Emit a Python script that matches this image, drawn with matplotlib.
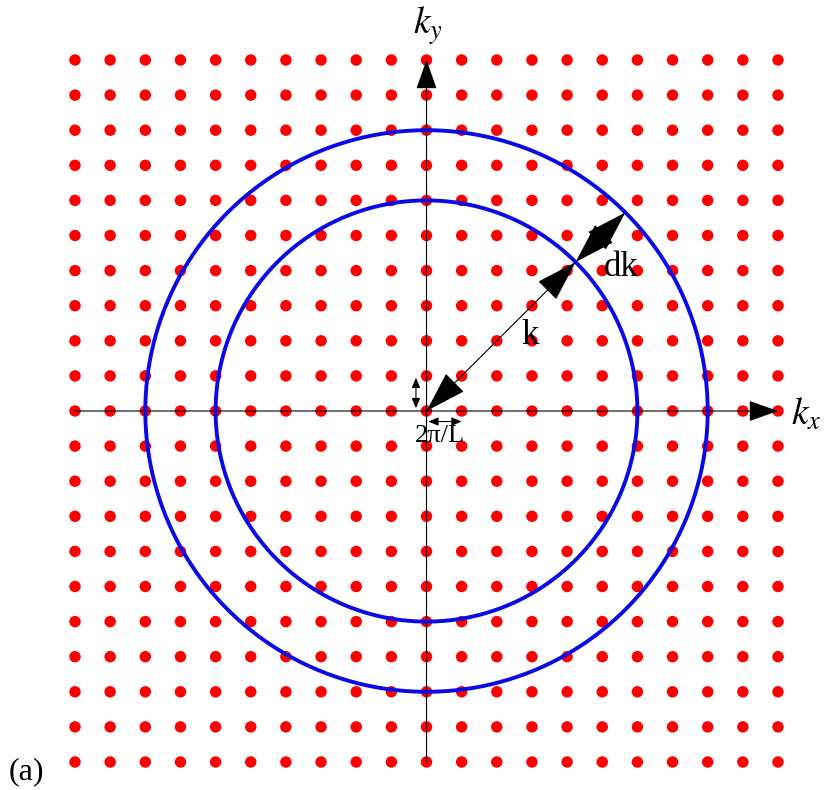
import numpy as np
import matplotlib
matplotlib.use('Agg')
from matplotlib import pyplot as plt

plt.rcParams['font.family'] = ['Liberation Serif', 'DejaVu Serif']
plt.rcParams['mathtext.fontset'] = 'stix'

# lattice of allowed k points (units of 2pi/L)
n_min, n_max = -10, 10
grid_vals = np.arange(n_min, n_max + 1)

# shell radii
r_inner = 6
r_outer = 8
shell_angle = 45  # degrees, direction of the k / dk arrows

fig = plt.figure(figsize=(8.28, 7.9), dpi=100)
ax = fig.add_axes([75 / 828, 1 - 762 / 790, 703 / 828, 702 / 790])
ax.set_xlim(n_min, n_max)
ax.set_ylim(n_min, n_max)
ax.axis('off')

# red dots
gx, gy = np.meshgrid(grid_vals, grid_vals)
ax.scatter(gx.ravel(), gy.ravel(), s=68, color='#ff0000', edgecolors='none',
           zorder=1, clip_on=False)

# axes with arrow heads
axis_arrow = dict(arrowstyle='-|>,head_length=0.85,head_width=0.3', color='black',
                  lw=0.8, mutation_scale=22, shrinkA=0, shrinkB=0)
ax.annotate('', xy=(n_max, 0), xytext=(n_min, 0), arrowprops=axis_arrow,
            annotation_clip=False, zorder=2)
ax.annotate('', xy=(0, n_max), xytext=(0, n_min), arrowprops=axis_arrow,
            annotation_clip=False, zorder=2)

# shells
t = np.linspace(0, 2 * np.pi, 400)
for r in (r_inner, r_outer):
    ax.plot(r * np.cos(t), r * np.sin(t), color='#0a0ae6', lw=2.8, zorder=3,
            clip_on=False)

# k and dk arrows
a = np.deg2rad(shell_angle)
big_arrow = dict(arrowstyle='<|-|>,head_length=1.0,head_width=0.31', color='black',
                 lw=0.8, mutation_scale=27, shrinkA=0, shrinkB=0)
ax.annotate('', xy=(0, 0), xytext=(r_inner * np.cos(a), r_inner * np.sin(a)),
            arrowprops=big_arrow, zorder=4)
ax.annotate('', xy=(r_inner * np.cos(a), r_inner * np.sin(a)),
            xytext=(r_outer * np.cos(a), r_outer * np.sin(a)),
            arrowprops=big_arrow, zorder=4)

# lattice spacing arrows
small_arrow = dict(arrowstyle='<|-|>,head_length=0.6,head_width=0.25', color='black',
                   lw=0.8, mutation_scale=10, shrinkA=0, shrinkB=0)
ax.annotate('', xy=(-0.3, 0.08), xytext=(-0.3, 0.95), arrowprops=small_arrow, zorder=4)
ax.annotate('', xy=(0.05, -0.3), xytext=(1.0, -0.3), arrowprops=small_arrow, zorder=4)

# labels
ax.text(0.37, -0.72, '2π/L', fontsize=19, ha='center', va='center', zorder=5)
ax.text(2.95, 2.15, 'k', fontsize=25, ha='center', va='center', zorder=5)
ax.text(5.55, 4.1, 'dk', fontsize=25, ha='center', va='center', zorder=5)
ax.text(0.05, 10.98, r'$k_y$', fontsize=27, ha='center', va='center')
ax.text(10.8, -0.12, r'$k_x$', fontsize=27, ha='center', va='center')
fig.text(26 / 828, 1 - 772 / 790, '(a)', fontsize=23, ha='center', va='center')

fig.savefig('out.png', dpi=100)
